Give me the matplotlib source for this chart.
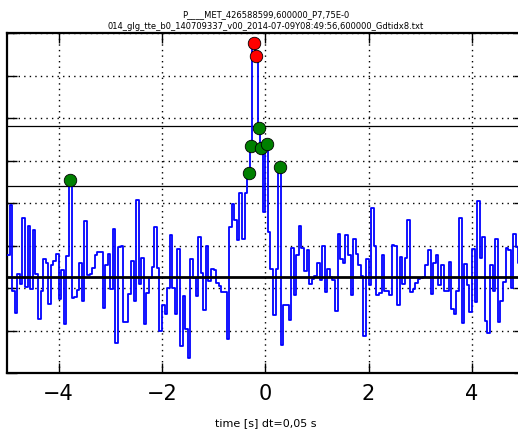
import numpy as np
import matplotlib
matplotlib.use("Agg")
import matplotlib.pyplot as plt

# light curve, 0.05 s bins from -5 s to +5 s (counts per bin)
t_start = -5.0
dt = 0.05
counts = [
    215.8, 239.3, 198.6, 188.4, 206.9, 202.0, 232.8, 200.5, 229.2, 199.4,
    227.3, 206.9, 185.3, 198.5, 213.6, 212.0, 192.8, 210.8, 212.7, 216.2,
    195.0, 208.5, 183.0, 215.0, 251.0, 195.5, 196.0, 199.0, 212.0, 194.0,
    231.7, 206.0, 206.9, 209.6, 215.8, 217.0, 217.0, 190.8, 211.0, 216.3,
    199.4, 228.0, 174.3, 219.4, 220.0, 184.0, 184.0, 197.5, 212.7, 193.9,
    241.4, 202.0, 214.3, 183.4, 197.8, 205.0, 210.0, 228.8, 209.6, 179.8,
    192.3, 188.1, 200.0, 224.8, 200.2, 187.7, 218.5, 172.8, 196.3, 181.0,
    167.3, 213.5, 205.0, 196.3, 224.2, 207.3, 189.8, 219.8, 203.3, 209.1,
    208.5, 202.6, 201.0, 198.2, 198.2, 176.3, 228.7, 239.8, 232.3, 222.9,
    244.8, 223.2, 244.8, 254.1, 266.8, 315.2, 309.1, 275.2, 265.9, 235.7,
    267.7, 226.4, 209.0, 187.2, 209.0, 257.0, 173.5, 192.0, 192.0, 185.2,
    219.0, 197.0, 215.4, 229.1, 219.0, 208.0, 218.1, 201.8, 204.1, 205.7,
    212.0, 204.0, 220.0, 198.0, 208.8, 205.4, 203.8, 189.2, 225.7, 213.5,
    212.0, 224.8, 215.5, 197.0, 223.2, 216.3, 211.1, 205.7, 177.5, 213.5,
    201.7, 237.8, 219.8, 196.6, 197.8, 215.8, 198.9, 198.6, 196.6, 220.2,
    219.8, 192.3, 214.7, 202.2, 214.0, 232.0, 198.1, 199.7, 202.5, 204.1,
    204.9, 205.2, 210.7, 217.9, 197.5, 211.8, 215.7, 201.3, 211.1, 198.6,
    198.6, 212.4, 190.0, 187.7, 198.6, 233.0, 183.7, 211.6, 201.3, 188.7,
    218.5, 193.4, 240.9, 214.3, 224.0, 184.5, 179.0, 211.1, 198.6, 223.2,
    184.0, 193.9, 202.8, 218.8, 217.9, 200.2, 225.5, 219.4, 212.0, 205.0,
]

background = 205.2
thr_3sig = 248.1
thr_5sig = 276.5

title = ("P____MET_426588599,600000_P7,75E-0\n"
         "014_glg_tte_b0_140709337_v00_2014-07-09Y08:49:56,600000_Gdtidx8.txt")
xlabel = "time [s] dt=0,05 s"
xticks = [-4, -2, 0, 2, 4]
yticks = [160, 180, 200, 220, 240, 260, 280, 300, 320]

counts = np.array(counts)
edges = t_start + dt * np.arange(len(counts) + 1)
centers = edges[:-1] + dt / 2

fig = plt.figure(figsize=(5.18, 4.30), dpi=100)
ax = fig.add_axes([0.0135, 0.1319, 0.9973, 0.7914])

ax.step(edges, np.append(counts, counts[-1]), where="post", color="blue", lw=1.3, zorder=3)

ax.axhline(background, color="black", lw=2.0, zorder=4)
ax.axhline(thr_3sig, color="black", lw=0.9, zorder=2)
ax.axhline(thr_5sig, color="black", lw=0.9, zorder=2)

hi3 = (counts > thr_3sig) & (counts <= thr_5sig)
hi5 = counts > thr_5sig
ax.plot(centers[hi3], counts[hi3], "o", color="green", mec="black", mew=0.6, ms=9, zorder=5)
ax.plot(centers[hi5], counts[hi5], "o", color="red", mec="black", mew=0.6, ms=9, zorder=5)

ax.set_xlim(-5, 5)
ax.set_ylim(160, 320)
ax.set_xticks(xticks)
ax.set_xticklabels(["\u22124", "\u22122", "0", "2", "4"])
ax.set_yticks(yticks)
ax.grid(True, color="black", linestyle=(0, (1, 3)), lw=1.0)
ax.tick_params(direction="in", length=7, width=1, top=True, right=True,
               labelleft=False, labelsize=15, pad=8)
for sp in ax.spines.values():
    sp.set_linewidth(1.6)

ax.set_title(title, fontsize=6, linespacing=1.45, pad=3)
ax.set_xlabel(xlabel, fontsize=8, labelpad=10)

fig.savefig("out.png", dpi=100)
